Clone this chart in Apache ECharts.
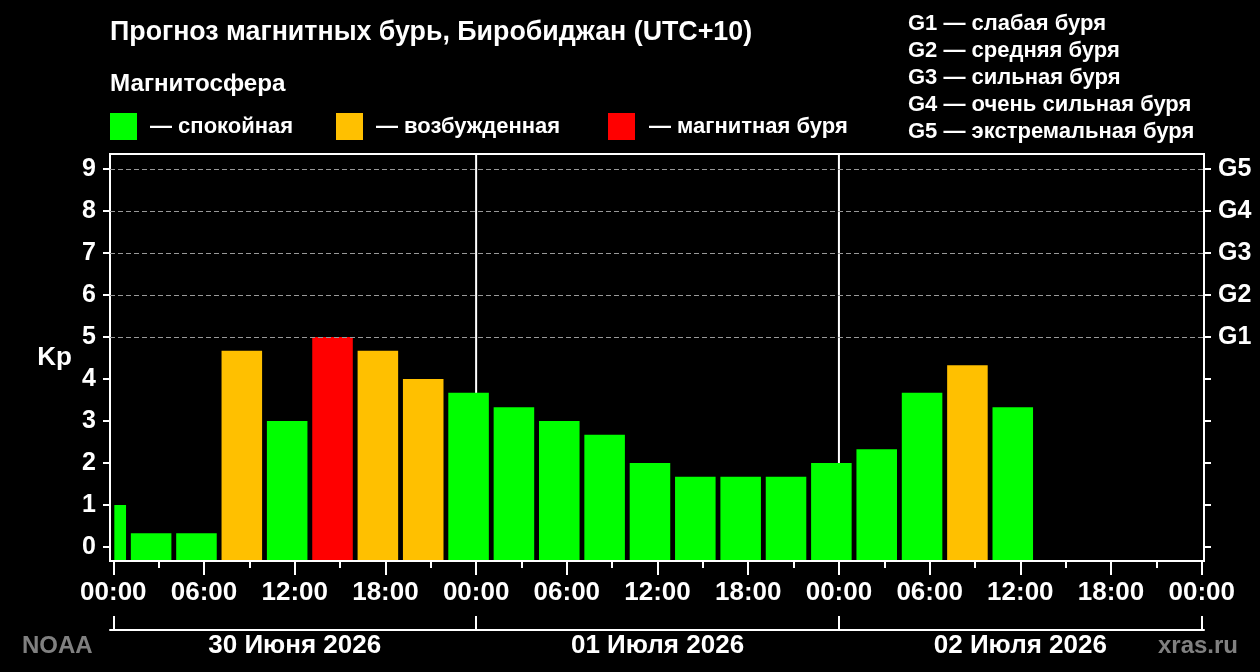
<!DOCTYPE html>
<html>
<head>
<meta charset="utf-8">
<script src="https://cdn.jsdelivr.net/npm/echarts@6/dist/echarts.min.js"></script>
<style>
  html, body { margin: 0; padding: 0; background: #000; }
  #chart { width: 1260px; height: 672px; }
</style>
</head>
<body>
<div id="chart"></div>
<script>
// 3-hour Kp forecast, hours counted from 30 June 00:00 local time (UTC+10)
const periodStart = [-2, 1, 4, 7, 10, 13, 16, 19, 22, 25, 28, 31, 34, 37, 40, 43, 46, 49, 52, 55, 58];
const kpValues = [1, 0.33, 0.33, 4.67, 3, 5, 4.67, 4, 3.67, 3.33, 3, 2.67, 2, 1.67, 1.67, 1.67, 2, 2.33, 3.67, 4.33, 3.33];
const periodLength = 3;

const timeTicks = [0, 6, 12, 18, 24, 30, 36, 42, 48, 54, 60, 66, 72];
const timeLabels = ['00:00', '06:00', '12:00', '18:00', '00:00', '06:00', '12:00', '18:00', '00:00', '06:00', '12:00', '18:00', '00:00'];
const minorTicks = [3, 9, 15, 21, 27, 33, 39, 45, 51, 57, 63, 69];
const dayBounds = [0, 24, 48, 72];
const dayDividers = [24, 48];
const dayCenters = [12, 36, 60];
const dayLabels = ['30 Июня 2026', '01 Июля 2026', '02 Июля 2026'];

const kpTicks = [0, 1, 2, 3, 4, 5, 6, 7, 8, 9];
const stormLevels = [5, 6, 7, 8, 9];
const stormLabels = ['G1', 'G2', 'G3', 'G4', 'G5'];
const stormNames = ['G1 — слабая буря', 'G2 — средняя буря', 'G3 — сильная буря', 'G4 — очень сильная буря', 'G5 — экстремальная буря'];

const GREEN = '#00ff00', ORANGE = '#ffc000', RED = '#ff0000';
const FONT = '"Liberation Sans", Arial, sans-serif';

function kpColor(v) {
  if (v >= 5) return RED;
  if (v >= 4) return ORANGE;
  return GREEN;
}

const barData = periodStart.map((s, i) => [s, s + periodLength, kpValues[i]]);

const chart = echarts.init(document.getElementById('chart'));

const labelStyle = { color: '#fff', fontFamily: FONT, fontWeight: 'bold', fontSize: 26 };
const tickStyle = { color: '#fff', width: 2 };
const hiddenLine = { show: false, onZero: false };

function topText(text, x, y, size, extra) {
  return {
    type: 'text', x: x, y: y,
    style: Object.assign({ text: text, fill: '#fff', fontFamily: FONT, fontWeight: 'bold', fontSize: size, verticalAlign: 'middle' }, extra || {})
  };
}

const graphics = [
  topText('Прогноз магнитных бурь, Биробиджан (UTC+10)', 110, 33, 26.8),
  topText('Магнитосфера', 110, 84, 24.2),
  { type: 'rect', shape: { x: 110, y: 113, width: 27, height: 27 }, style: { fill: GREEN } },
  topText('— спокойная', 150, 127, 22),
  { type: 'rect', shape: { x: 336, y: 113, width: 27, height: 27 }, style: { fill: ORANGE } },
  topText('— возбужденная', 376, 127, 22),
  { type: 'rect', shape: { x: 608, y: 113, width: 27, height: 27 }, style: { fill: RED } },
  topText('— магнитная буря', 649, 127, 22),
  topText('NOAA', 22, 646, 24, { fill: '#808080' }),
  topText('xras.ru', 1238, 646, 24, { fill: '#808080', align: 'right' })
];
stormNames.forEach((t, i) => graphics.push(topText(t, 908, 24 + i * 26.9, 22)));

chart.setOption({
  backgroundColor: '#000',
  animation: false,
  grid: {
    left: 110, right: 56, top: 154, bottom: 111,
    show: true, borderColor: '#fff', borderWidth: 2, backgroundColor: 'transparent'
  },
  graphic: graphics,
  xAxis: [
    {
      type: 'value', min: -0.22, max: 72.15, position: 'bottom',
      axisLine: hiddenLine,
      splitLine: { show: false },
      axisTick: { show: true, inside: false, customValues: timeTicks, length: 14, lineStyle: tickStyle },
      axisLabel: {
        show: true, customValues: timeTicks, margin: 19,
        formatter: v => timeLabels[timeTicks.indexOf(Math.round(v))],
        ...labelStyle
      }
    },
    {
      type: 'value', min: -0.22, max: 72.15, position: 'bottom',
      axisLine: hiddenLine,
      splitLine: { show: false },
      axisTick: { show: true, inside: false, customValues: minorTicks, length: 7, lineStyle: tickStyle },
      axisLabel: { show: false }
    },
    {
      type: 'value', min: -0.22, max: 72.15, position: 'bottom', offset: 69,
      axisLine: { show: true, onZero: false, lineStyle: tickStyle },
      splitLine: { show: false },
      axisTick: { show: true, inside: true, customValues: dayBounds, length: 14, lineStyle: tickStyle },
      axisLabel: {
        show: true, customValues: dayCenters, margin: 3,
        formatter: v => dayLabels[dayCenters.indexOf(Math.round(v))],
        ...labelStyle
      }
    }
  ],
  yAxis: [
    {
      type: 'value', min: -0.333, max: 9.357, position: 'left',
      name: 'Kp', nameLocation: 'middle', nameRotate: 0, nameGap: 38,
      nameTextStyle: { color: '#fff', fontFamily: FONT, fontWeight: 'bold', fontSize: 26, align: 'right' },
      axisLine: hiddenLine,
      splitLine: { show: false },
      axisTick: { show: true, inside: false, customValues: kpTicks, length: 7, lineStyle: tickStyle },
      axisLabel: { show: true, customValues: kpTicks, margin: 14, ...labelStyle, fontSize: 25 }
    },
    {
      type: 'value', min: -0.333, max: 9.357, position: 'right',
      axisLine: hiddenLine,
      splitLine: { show: false },
      axisTick: { show: true, inside: false, customValues: kpTicks, length: 7, lineStyle: tickStyle },
      axisLabel: {
        show: true, customValues: stormLevels, margin: 14,
        formatter: v => stormLabels[stormLevels.indexOf(Math.round(v))],
        ...labelStyle, fontSize: 25
      }
    }
  ],
  series: [
    {
      name: 'days',
      type: 'custom',
      z: 1,
      silent: true,
      data: dayDividers.map(d => [d]),
      renderItem: function (params, api) {
        const cs = params.coordSys;
        const x = api.coord([api.value(0), 0])[0];
        return {
          type: 'line',
          shape: { x1: x, y1: cs.y, x2: x, y2: cs.y + cs.height },
          style: { stroke: '#fff', lineWidth: 2 }
        };
      },
      markLine: {
        silent: true,
        symbol: ['none', 'none'],
        label: { show: false },
        lineStyle: { color: '#999', type: [5, 3], width: 1 },
        data: stormLevels.map(v => ({ yAxis: v }))
      }
    },
    {
      name: 'Kp',
      type: 'custom',
      z: 2,
      data: barData,
      renderItem: function (params, api) {
        const cs = params.coordSys;
        const v = api.value(2);
        const top = api.coord([api.value(0), v]);
        const end = api.coord([api.value(1), v]);
        const zeroX = api.coord([0, 0])[0];
        const left = Math.max(top[0] + 2.4, zeroX + 1);
        const right = end[0] - 2.4;
        const bottom = cs.y + cs.height - 1;
        return {
          type: 'rect',
          shape: { x: left, y: top[1], width: right - left, height: bottom - top[1] },
          style: { fill: kpColor(v) }
        };
      }
    }
  ]
});
</script>
</body>
</html>
